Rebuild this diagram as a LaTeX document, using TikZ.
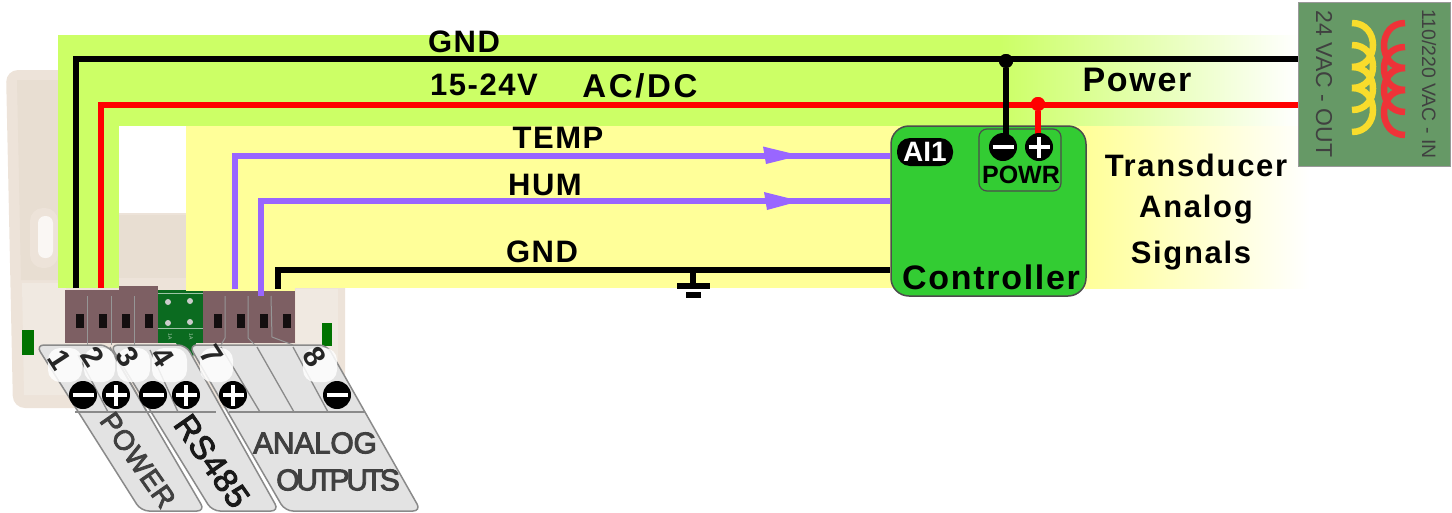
\documentclass[tikz,border=0pt]{standalone}
\usepackage{fontspec}
\setmainfont{Liberation Sans}
\newfontfamily\fA[LetterSpace=5]{Liberation Sans}
\newfontfamily\fB[LetterSpace=5.5]{Liberation Sans}
\newfontfamily\fC[LetterSpace=5]{Liberation Sans}
\newfontfamily\fJ[LetterSpace=8]{Liberation Sans}
\newfontfamily\fG[FakeBold=3,LetterSpace=3]{Liberation Sans}
\newfontfamily\fH[FakeBold=3,LetterSpace=-11]{Liberation Sans}
\newfontfamily\fI[FakeBold=3,LetterSpace=-1]{Liberation Sans}
\newfontfamily\fK{Liberation Sans Bold}
\newcommand{\sz}[1]{\fontsize{#1}{#1}\selectfont}
\definecolor{lime}{HTML}{CCFF66}
\definecolor{paley}{HTML}{FFFF99}
\definecolor{wpurple}{HTML}{9966FF}
\definecolor{ctrlg}{HTML}{33CC33}
\definecolor{xfg}{HTML}{669966}
\definecolor{beige}{HTML}{EDE3D9}
\definecolor{beigein}{HTML}{E8DED2}
\definecolor{beigelo}{HTML}{F0E9E1}
\definecolor{brownt}{HTML}{7D5F63}
\definecolor{pcb}{HTML}{0B6B20}
\definecolor{tabg}{HTML}{E3E3E3}
\definecolor{tabl}{HTML}{8A8A8A}
\definecolor{coily}{HTML}{F8DC2C}
\definecolor{coilr}{HTML}{EE3338}
\tikzset{
  x=1pt,y=-1pt,
  wire/.style={line width=6pt,line join=miter},
  tag/.style={inner sep=0pt,font=\bfseries},
  tabshape/.style={draw=tabl,line width=1.5pt,fill=tabg,rounded corners=8pt},
  divider/.style={draw=tabl,line width=1.3pt},
  contact/.style={draw=tabl!90!white,line width=1pt},
  slot/.style={fill=black!85!brownt},
  patch/.style={fill=white,opacity=.85,rounded corners=12pt},
  bubble/.style={circle,fill=black,minimum size=28pt,inner sep=0pt},
  coil/.style={line width=6.5pt},
  digit/.style={inner sep=0pt,rotate=-57,font=\sz{30}\fK,text=black!85},
  arrowhd/.style={fill=wpurple},
  dotj/.style={circle,minimum size=14pt,inner sep=0pt}
}
\newcommand{\MinusAt}[3]{\node[bubble] (#1) at (#2,#3) {};
  \draw[white,line width=4.5pt] ([xshift=-10.5pt]#1.center) -- ([xshift=10.5pt]#1.center);}
\newcommand{\PlusAt}[3]{\node[bubble] (#1) at (#2,#3) {};
  \draw[white,line width=4.5pt] ([xshift=-10.5pt]#1.center) -- ([xshift=10.5pt]#1.center);
  \draw[white,line width=4.5pt] ([yshift=-10.5pt]#1.center) -- ([yshift=10.5pt]#1.center);}
\begin{document}
\begin{tikzpicture}
\useasboundingbox (0,0) rectangle (1452,512);
% housing
\fill[beige,rounded corners=12pt] (6,70) -- (345,70) -- (345,408) -- (13,408) -- cycle;
\fill[white] (119,60) rectangle (346,213);
\fill[white] (186,60) rectangle (346,288);
\fill[beigein] (17,80) -- (60,80) -- (60,280) -- (21,280) -- cycle;
\fill[beigein] (119,215) rectangle (186,280);
\fill[beige] (119,278) rectangle (186,291);
\fill[beigelo] (22,283) -- (66,283) -- (66,395) -- (24,395) -- cycle;
\fill[beigelo] (296,289) rectangle (338,385);
\fill[beige,rounded corners=13pt] (30,208) rectangle (58,268);
\fill[white!70!beige,rounded corners=7pt] (38,216) rectangle (53,258);
\fill[green!45!black] (22,330) rectangle (34,355);
\fill[green!45!black] (322,323) rectangle (332,346);
% PCB
\fill[pcb] (158,290) rectangle (203,343);
\fill[pcb] (176,343) -- (196,343) -- (192,362) -- (186,362) -- cycle;
\draw[white!60!pcb,line width=1pt] (158,293) -- (203,293) (158,328) -- (203,328);
\foreach \cx/\cy in {168/302,190/301,168/323,190/322} \fill[white!80!black] (\cx,\cy) circle (3);
\node[inner sep=0pt,rotate=-90,text=white!70!pcb,font=\sz{5}] (pcbA) at (170,337) {1A};
\node[inner sep=0pt,rotate=-90,text=white!70!pcb,font=\sz{5}] (pcbB) at (191,337) {1A};
\draw[black!70!red,line width=4pt] (192,362) -- (205,385);
\draw[white,line width=5pt] (205,385) -- (222,412);
% terminals
\fill[brownt] (65,290) rectangle (119,343);
\fill[brownt] (119,286) rectangle (158,343);
\fill[brownt] (203,289) rectangle (295,343);
\foreach \sx in {76,99,122,145,214,237,260,283} \fill[slot] (\sx,314) rectangle ++(8,14);
\draw[contact] (87,296) -- (87,345) (111,296) -- (111,345) (134,296) -- (134,345);
\draw[contact] (225,296) -- (225,338) -- (221,345);
\draw[contact] (248,296) -- (248,338) -- (255,345);
\draw[contact] (271,296) -- (272,337) -- (293,345);
% backgrounds
\fill[lime] (58,35) rectangle (1001,126);
\shade[left color=lime,right color=white] (1000,35) rectangle (1298,126);
\fill[lime] (58,35) rectangle (119,288);
\fill[paley] (186,126) rectangle (1086,288);
\fill[paley] (186,288) rectangle (295,291);
\shade[left color=paley,right color=white] (1085,126) rectangle (1310,288);
% transformer
\node[draw=black!40,line width=1pt,fill=xfg,minimum width=152pt,minimum height=164pt,inner sep=0pt] (xf) at (1374,84) {};
\foreach \a/\b in {23/67,45/88,67/110,88/132}
  \draw[coily,coil] (1352,\a) .. controls (1380,\a) and (1380,\b) .. (1352,\b);
\foreach \a/\b in {23/68,47/90,68/112,90/135}
  \draw[coilr,coil] (1405,\a) .. controls (1377,\a) and (1377,\b) .. (1405,\b);
\node[inner sep=0pt,rotate=-90,text=black!75,font=\sz{19.4}] (xfin) at (1429,84) {110/220 VAC - IN};
\node[inner sep=0pt,rotate=-90,text=black!75,font=\sz{23}] (xfout) at (1324,84) {24 VAC - OUT};
% controller
\node[draw=black!70,line width=1.5pt,fill=ctrlg,rounded corners=18pt,minimum width=195pt,minimum height=170pt,inner sep=0pt] (ctrl) at (988.5,211) {};
\node[draw=black!70,line width=1.2pt,rounded corners=8pt,minimum width=82pt,minimum height=62pt,inner sep=0pt] (powr) at (1020,160) {};
% anchors
\coordinate (t1) at (76,288);
\coordinate (t2) at (101,288);
\coordinate (t7) at (235,289);
\coordinate (t7b) at (261,296);
\coordinate (t8) at (278,289);
\coordinate (xfg1) at (xf.west |- 0,59);
\coordinate (xfr1) at (xf.west |- 0,105);
\coordinate (c1) at (ctrl.west |- 0,156);
\coordinate (c2) at (ctrl.west |- 0,201);
\coordinate (c3) at (ctrl.west |- 0,270);
\coordinate (gndt) at (693,270);
\coordinate (gndb) at (693,286);
\node[dotj,fill=black] (jb) at (1006,61) {};
\node[dotj,fill=red] (jr) at (1038,104) {};
% wires
\draw[wire] (t1) |- (xfg1);
\draw[wire,red] (t2) |- (xfr1);
\draw[wire,wpurple] (t7) |- (c1);
\draw[wire,wpurple] (t7b) |- (c2);
\draw[wire] (t8) |- (c3);
\draw[wire] (gndt) -- (gndb);
\draw[line width=6pt] (677,286) -- (710,286);
\draw[line width=6pt] (686,295) -- (701,295);
\fill[arrowhd] (763,146.5) -- (800,155.5) -- (766,164) -- cycle;
\fill[arrowhd] (764,192) -- (800,201) -- (767,210) -- cycle;
\node[dotj,fill=black] at (jb) {};
\node[dotj,fill=red] at (jr) {};
\coordinate (pmtop) at (1006,147);
\coordinate (pptop) at (1038,147);
\draw[line width=6pt] (jb) -- (pmtop);
\draw[line width=6pt,red] (jr) -- (pptop);
\MinusAt{pm}{1003}{147}
\PlusAt{pp}{1039}{147}
% controller labels
\node[tag,fill=black,text=white,rounded corners=13pt,minimum width=56pt,minimum height=28pt,font=\sz{28}\bfseries] (ai) at (925,152) {AI1};
\node[tag,font=\sz{25}\bfseries] (powrt) at (1021,175) {POWR};
\node[tag,font=\sz{34}\fC\bfseries] (ctrlt) at (991,277) {Controller};
% wire labels
\node[tag,font=\sz{31}\fA\bfseries] (lg) at (464,42) {GND};
\node[tag,font=\sz{31}\fA\bfseries] (lv) at (484,85) {15-24V};
\node[tag,font=\sz{33}\fJ\bfseries] (lac) at (640,86) {AC/DC};
\node[tag,font=\sz{34}\fC\bfseries] (lp) at (1137,80) {Power};
\node[tag,font=\sz{31}\fA\bfseries] (lt) at (558,138) {TEMP};
\node[tag,font=\sz{31}\fA\bfseries] (lh) at (545,185) {HUM};
\node[tag,font=\sz{31}\fA\bfseries] (lg2) at (542,252) {GND};
\node[tag,font=\sz{31}\fB\bfseries] (ltr) at (1196,165) {Transducer};
\node[tag,font=\sz{31}\fB\bfseries] (lan) at (1196,210) {Analog};
\node[tag,font=\sz{31}\fB\bfseries] (lsi) at (1191,256) {Signals};
% tabs
\path[tabshape] (36,345) -- (108,345) -- (205,511) -- (141,511) -- cycle;
\path[tabshape] (110,345) -- (186,345) -- (279,511) -- (212,511) -- cycle;
\path[tabshape] (189,345) -- (327,345) -- (421,511) -- (285,511) -- cycle;
\draw[divider] (75,412) -- (216,412) (229,412) -- (365,412);
\draw[divider] (78,355) -- (108,412);
\draw[divider] (110,347) -- (147,412);
\draw[divider] (150,350) -- (178,412);
\draw[divider] (221,347) -- (260,412);
\draw[divider] (257,347) -- (294,412);
\draw[divider] (293,347) -- (328,412);
\foreach \pa/\pb in {48/82,84/115,117/150,152/187,200/233,303/337}
  \fill[patch] (\pa,348) rectangle (\pb,382);
\node[digit] (d1) at (60,360) {1};
\node[digit] (d2) at (93,357) {2};
\node[digit] (d3) at (128,357) {3};
\node[digit] (d4) at (163,357) {4};
\node[digit] (d7) at (212,355) {7};
\node[digit] (d8) at (315,357) {8};
\MinusAt{b1}{83}{395}
\PlusAt{b2}{116}{395}
\MinusAt{b3}{153}{395}
\PlusAt{b4}{186}{395}
\PlusAt{b7}{233}{395}
\MinusAt{b8}{337}{395}
\node[inner sep=0pt,rotate=-55,text=black!75,font=\sz{28}\fG] (lpw) at (138,460) {POWER};
\node[inner sep=0pt,rotate=-55,text=black!90,font=\sz{33}\fG] (lrs) at (212,461) {RS485};
\node[inner sep=0pt,text=black!75,font=\sz{30}\fI] (lan2) at (315,443) {ANALOG};
\node[inner sep=0pt,text=black!75,font=\sz{30}\fH] (lou) at (338,480) {OUTPUTS};
\end{tikzpicture}
\end{document}
